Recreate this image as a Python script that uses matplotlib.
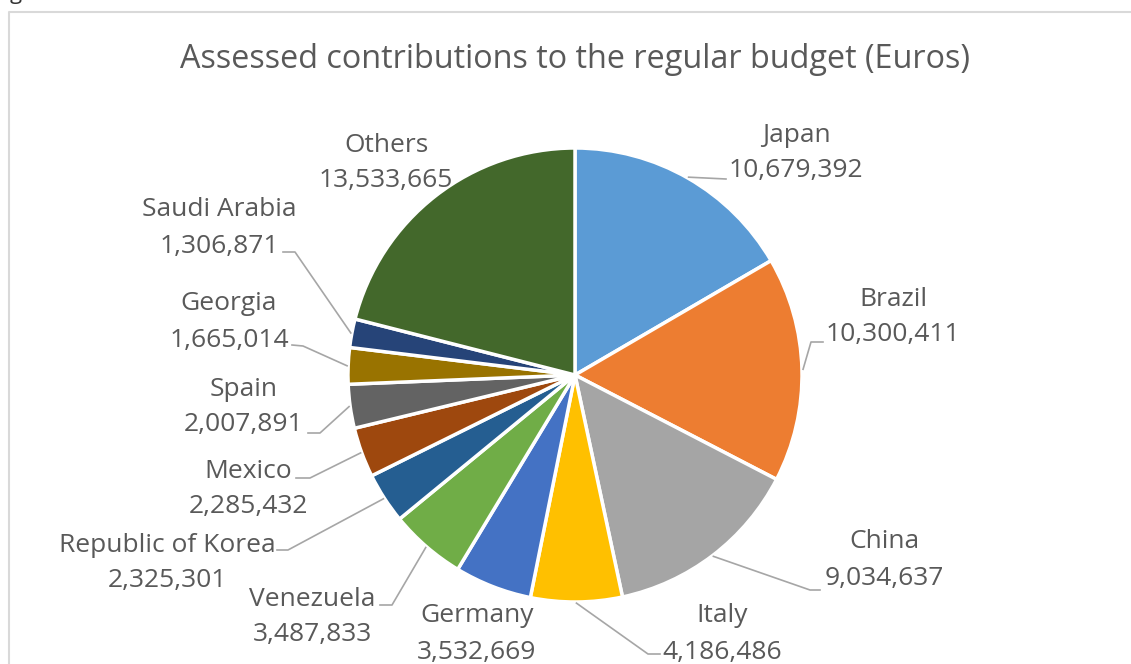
import numpy as np
import matplotlib.pyplot as plt

countries = ['Japan', 'Brazil', 'China', 'Italy', 'Germany', 'Venezuela',
             'Republic of Korea', 'Mexico', 'Spain', 'Georgia', 'Saudi Arabia', 'Others']
amounts = [10679392, 10300411, 9034637, 4186486, 3532669, 3487833,
           2325301, 2285432, 2007891, 1665014, 1306871, 13533665]
colors = ['#5B9BD5', '#ED7D31', '#A5A5A5', '#FFC000', '#4472C4', '#70AD47',
          '#255E91', '#9E480E', '#636363', '#997300', '#264478', '#43682B']

W, H = 1131, 664
# label block centres in pixels (x, y from top)
label_pos = [(796, 153), (893, 317), (884, 560), (722, 634), (477, 634), (312, 617),
             (167, 563), (248, 489), (244, 407), (229, 322), (219, 228), (386, 163)]
# leader lines: elbow point and end point (pixels), None = no leader
leaders = [((726, 179), None), ((811, 342), (823, 342)), ((810, 590), (820, 590)),
           ((648, 654), (660, 654)), None, ((392, 605), (380, 605)),
           ((288, 550), (277, 550)), ((310, 478), (296, 478)), ((320, 433), (308, 433)),
           ((303, 346), (292, 345)), ((295, 252), (283, 252)), None]

cx, cy, r = 575, 375, 227

plt.rcParams['font.family'] = ['Open Sans', 'DejaVu Sans']
fig = plt.figure(figsize=(W / 100, H / 100), dpi=100)
ax = fig.add_axes([0, 0, 1, 1])

wedges, _ = ax.pie(amounts, colors=colors, startangle=90, counterclock=False,
                   center=(cx, H - cy), radius=r, frame=True,
                   wedgeprops=dict(edgecolor='white', linewidth=2.5))

ax.set_xlim(0, W)
ax.set_ylim(0, H)
ax.set_aspect('equal')
ax.axis('off')

txt = '#595959'
line_c = '#A6A6A6'
for w, name, val, (lx, ly), ld in zip(wedges, countries, amounts, label_pos, leaders):
    ax.text(lx, H - ly + 18, name, ha='center', va='center', fontsize=19, color=txt)
    ax.text(lx, H - ly - 18, f'{val:,}', ha='center', va='center', fontsize=19, color=txt)
    if ld is not None:
        mid = np.deg2rad((w.theta1 + w.theta2) / 2)
        sx = cx + r * 1.005 * np.cos(mid)
        sy = (H - cy) + r * 1.005 * np.sin(mid)
        pts = [(sx, sy), (ld[0][0], H - ld[0][1])]
        if ld[1] is not None:
            pts.append((ld[1][0], H - ld[1][1]))
        xs, ys = zip(*pts)
        ax.plot(xs, ys, color=line_c, lw=1.2)

ax.text(575, H - 60, 'Assessed contributions to the regular budget (Euros)',
        ha='center', va='center', fontsize=23.3, color=txt)

# chart border (partly cut off by the screenshot)
ax.plot([9, 9, W + 5], [-5, H - 12, H - 12], color='#D9D9D9', lw=1.5, clip_on=False)
ax.text(10, H + 6, 'g', fontsize=16, color='#333333', va='center', clip_on=False)

fig.savefig('out.png', dpi=100)
